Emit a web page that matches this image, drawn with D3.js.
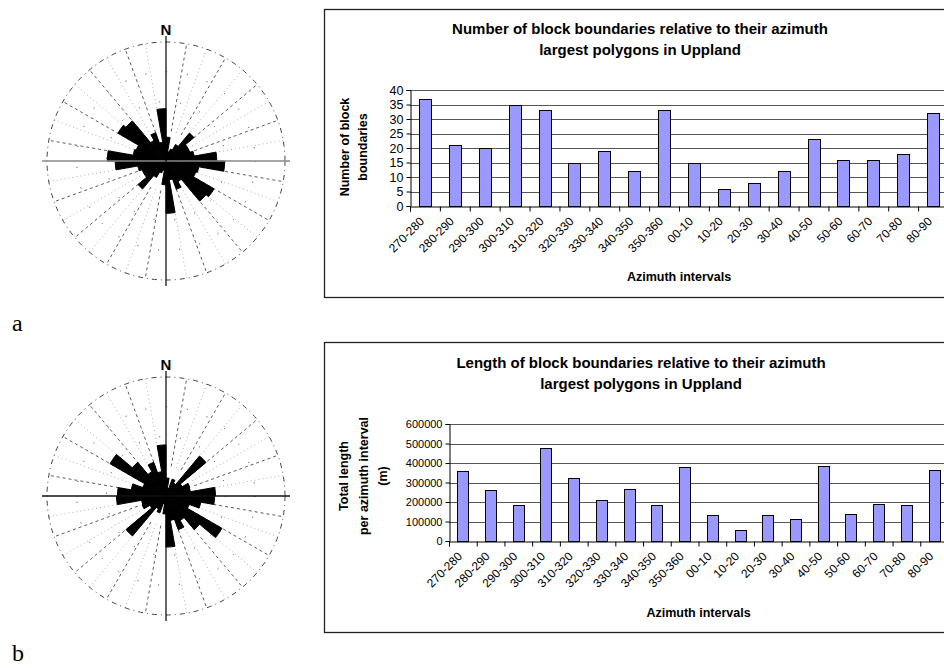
<!DOCTYPE html>
<html>
<head>
<meta charset="utf-8">
<script src="https://cdn.jsdelivr.net/npm/d3@7"></script>
<style>
  html, body { margin: 0; padding: 0; background: #fff; }
  svg { display: block; }
  text { font-family: "Liberation Sans", Arial, sans-serif; fill: #000; }
</style>
</head>
<body>
<svg id="fig" width="944" height="668"></svg>
<script>
// ---------------- data ----------------
const intervals = ["270-280","280-290","290-300","300-310","310-320","320-330","330-340","340-350","350-360",
                   "00-10","10-20","20-30","30-40","40-50","50-60","60-70","70-80","80-90"];
const boundaryCounts  = [37, 21, 20, 35, 33, 15, 19, 12, 33, 15, 6, 8, 12, 23, 16, 16, 18, 32];
const boundaryLengths = [359000, 261000, 183000, 478000, 325000, 208000, 265000, 183000, 378000,
                         133000, 58000, 133000, 111000, 386000, 138000, 188000, 183000, 366000];
const countTicks  = [0, 5, 10, 15, 20, 25, 30, 35, 40];
const lengthTicks = [0, 100000, 200000, 300000, 400000, 500000, 600000];
const titleA = ["Number of block boundaries relative to their azimuth", "largest polygons in Uppland"];
const titleB = ["Length of block boundaries relative to their azimuth", "largest polygons in Uppland"];
const yTitleA = ["Number of block", "boundaries"];
const yTitleB = ["Total length", "per azimuth interval", "(m)"];
const xTitle = "Azimuth intervals";
const panelLabels = ["a", "b"];

const svg = d3.select("#fig");

// ---------------- bar chart ----------------
function barChart(cfg) {
  const g = svg.append("g");
  g.append("rect").attr("x", cfg.box[0]).attr("y", cfg.box[1])
    .attr("width", cfg.box[2]).attr("height", cfg.box[3])
    .attr("fill", "#fff").attr("stroke", "#222").attr("stroke-width", 1.3);

  const x = d3.scaleBand().domain(intervals).range([cfg.left, cfg.right])
    .paddingInner(0.6).paddingOuter(0.3);
  const xEdges = d3.scaleLinear().domain([0, intervals.length]).range([cfg.left, cfg.right]);
  const y = d3.scaleLinear().domain([0, d3.max(cfg.ticks)]).range([cfg.bottom, cfg.top]);

  g.append("g").selectAll("line").data(cfg.ticks.filter(t => t > 0)).join("line")
    .attr("x1", cfg.left).attr("x2", cfg.right)
    .attr("y1", d => Math.round(y(d)) + 0.5).attr("y2", d => Math.round(y(d)) + 0.5)
    .attr("stroke", "#555").attr("stroke-width", 1);

  g.append("g").selectAll("rect").data(cfg.values).join("rect")
    .attr("x", (d, i) => Math.round(x(intervals[i])) + 0.5)
    .attr("y", d => Math.round(y(d)) + 0.5)
    .attr("width", Math.round(x.bandwidth()))
    .attr("height", d => Math.round(y(0)) - Math.round(y(d)))
    .attr("fill", "#9999ff").attr("stroke", "#000").attr("stroke-width", 1);

  const ya = g.append("g").attr("transform", `translate(${Math.round(cfg.left) + 0.5},0)`)
    .call(d3.axisLeft(y).tickValues(cfg.ticks).tickSize(4).tickPadding(3).tickFormat(d3.format("d")));
  ya.select(".domain").attr("stroke", "#000");
  ya.selectAll(".tick line").attr("stroke", "#000");
  ya.selectAll("text").attr("font-size", cfg.tickFont).attr("font-family", "Liberation Sans, Arial, sans-serif").attr("fill", "#000");

  const xa = g.append("g").attr("transform", `translate(0,${Math.round(cfg.bottom) + 0.5})`)
    .call(d3.axisBottom(xEdges).tickValues(d3.range(0, intervals.length + 1)).tickSize(5).tickFormat(""));
  xa.select(".domain").attr("stroke", "#000");
  xa.selectAll(".tick line").attr("stroke", "#000");

  g.append("g").selectAll("text").data(intervals).join("text")
    .attr("transform", d => `translate(${x(d) + x.bandwidth() / 2 + cfg.labDx},${cfg.bottom + cfg.labDy}) rotate(-45)`)
    .attr("text-anchor", "end").attr("font-size", cfg.labFont)
    .text(d => d);

  g.append("g").selectAll("text").data(cfg.title).join("text")
    .attr("x", cfg.titleX).attr("y", (d, i) => cfg.titleY + i * cfg.titleLH)
    .attr("text-anchor", "middle").attr("font-weight", "bold").attr("font-size", 15)
    .text(d => d);

  g.append("text").attr("x", (cfg.left + cfg.right) / 2).attr("y", cfg.xTitleY)
    .attr("text-anchor", "middle").attr("font-weight", "bold").attr("font-size", 12.5)
    .text(xTitle);

  const yt = g.append("text")
    .attr("transform", `translate(${cfg.yTitleX},${cfg.yTitleY}) rotate(-90)`)
    .attr("text-anchor", "middle").attr("font-weight", "bold").attr("font-size", 12.5);
  const n = cfg.yTitle.length;
  yt.selectAll("tspan").data(cfg.yTitle).join("tspan")
    .attr("x", 0).attr("y", (d, i) => (i - (n - 1) / 2) * cfg.yTitleLH + 4.5)
    .text(d => d);
}

barChart({
  box: [324.5, 9.5, 700, 288], left: 410, right: 948, top: 90, bottom: 206,
  values: boundaryCounts, ticks: countTicks, tickFont: 12.5, labFont: 12, labDx: 0, labDy: 16,
  title: titleA, titleX: 640, titleY: 33.5, titleLH: 21,
  xTitleY: 281, yTitle: yTitleA, yTitleX: 353, yTitleY: 147, yTitleLH: 18
});

barChart({
  box: [324.5, 342.5, 700, 290], left: 449, right: 948, top: 424, bottom: 541,
  values: boundaryLengths, ticks: lengthTicks, tickFont: 11, labFont: 12, labDx: 0, labDy: 16,
  title: titleB, titleX: 641, titleY: 368, titleLH: 21,
  xTitleY: 616.5, yTitle: yTitleB, yTitleX: 363, yTitleY: 476, yTitleLH: 19.5
});

// ---------------- rose diagrams ----------------
function rose(cfg) {
  const g = svg.append("g").attr("transform", `translate(${cfg.cx},${cfg.cy})`);
  const R = 119;
  const r = d3.scaleLinear().domain([0, cfg.domainMax]).range([0, R]);
  const rad = d => d * Math.PI / 180;

  // sparse dotted rings
  g.append("g").selectAll("circle").data([0.5, 0.75]).join("circle")
    .attr("r", d => R * d).attr("fill", "none").attr("stroke", "#333")
    .attr("stroke-width", 1).attr("stroke-dasharray", "1,20");

  // radial lines every 10 degrees
  g.append("g").selectAll("line").data(d3.range(0, 360, 10).filter(a => a % 90 !== 0)).join("line")
    .attr("x1", d => 30 * Math.sin(rad(d))).attr("y1", d => -30 * Math.cos(rad(d)))
    .attr("x2", d => R * Math.sin(rad(d))).attr("y2", d => -R * Math.cos(rad(d)))
    .attr("stroke", (d, i) => i % 2 ? "#999" : "#333").attr("stroke-width", 0.8)
    .attr("stroke-dasharray", (d, i) => i % 2 ? "1,3" : "3,3");

  // outer circle
  g.append("circle").attr("r", R).attr("fill", "none").attr("stroke", "#444")
    .attr("stroke-width", 1).attr("stroke-dasharray", "5,4,1,4");

  // petals (bidirectional)
  const arc = d3.arc().innerRadius(0);
  const petals = [];
  intervals.forEach((lab, i) => {
    const s = +lab.split("-")[0];
    petals.push({ s: s, v: cfg.values[i] });
    petals.push({ s: (s + 180) % 360, v: cfg.values[i] });
  });
  g.append("g").selectAll("path").data(petals).join("path")
    .attr("d", d => arc({ outerRadius: r(d.v), startAngle: rad(d.s), endAngle: rad(d.s + 10) }))
    .attr("fill", "#000").attr("stroke", "#000").attr("stroke-width", 1).attr("stroke-linejoin", "miter");

  // axes
  g.append("line").attr("x1", -124).attr("x2", 124).attr("y1", 0).attr("y2", 0)
    .attr("stroke", cfg.hColor).attr("stroke-width", 1.5);
  g.append("line").attr("x1", 0).attr("x2", 0).attr("y1", -125).attr("y2", 125)
    .attr("stroke", "#000").attr("stroke-width", 1.2);

  g.append("text").attr("x", 0).attr("y", -126).attr("text-anchor", "middle")
    .attr("font-weight", "bold").attr("font-size", 15).text("N");
}

rose({ cx: 166, cy: 161, values: boundaryCounts, domainMax: 75, hColor: "#888" });
rose({ cx: 166, cy: 496, values: boundaryLengths, domainMax: 880000, hColor: "#111" });

svg.append("g").selectAll("text").data(panelLabels).join("text")
  .attr("x", 12).attr("y", (d, i) => i === 0 ? 331 : 661)
  .attr("font-size", 24)
  .style("font-family", "'Liberation Serif', serif")
  .text(d => d);
</script>
</body>
</html>
